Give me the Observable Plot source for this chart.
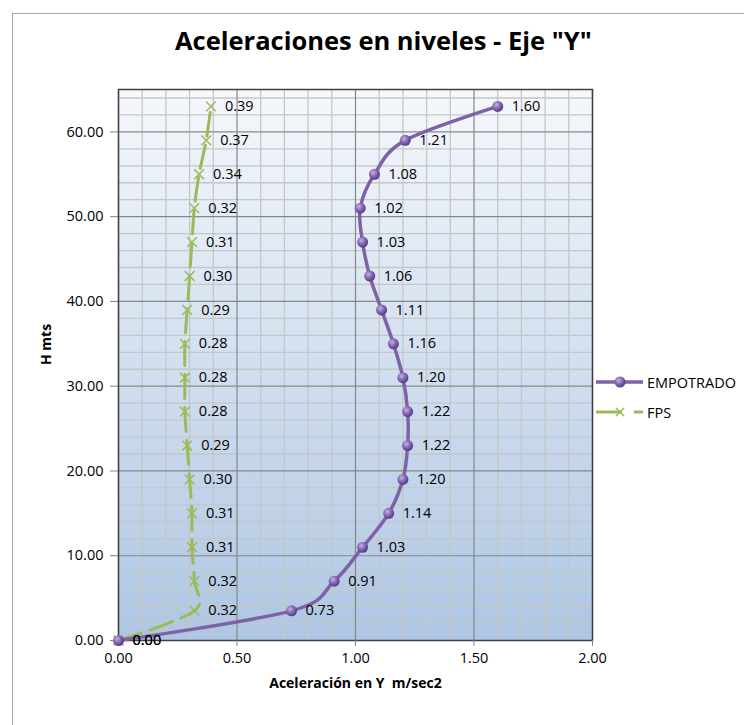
<!DOCTYPE html>
<html>
<head>
<meta charset="utf-8">
<script src="https://cdn.jsdelivr.net/npm/d3@7"></script>
<script src="https://cdn.jsdelivr.net/npm/@observablehq/plot@0.6"></script>
<style>
  html, body { margin: 0; padding: 0; background: #fff; }
  #wrap { position: relative; width: 744px; height: 725px; overflow: hidden; font-family: "Open Sans", sans-serif; }
  #border { position: absolute; left: 12px; top: 13px; width: 800px; height: 800px; border: 1px solid #a6a6a6; box-sizing: border-box; }
  #title { position: absolute; left: 175px; top: 20px; white-space: nowrap; font-weight: bold; font-size: 25.5px; line-height: 40px; color: #000; }
  #chart { position: absolute; left: 0; top: 0; }
  #legend { position: absolute; left: 596px; top: 367px; font-size: 14.5px; color: #000; }
  .li { display: flex; align-items: center; height: 30px; }
  .li svg { margin-right: 3px; }
</style>
</head>
<body>
<div id="wrap">
  <div id="border"></div>
  <div id="chart"></div>
  <div id="title">Aceleraciones en niveles - Eje "Y"</div>
  <div id="legend"></div>
</div>
<script>
// Data
const heights = [0, 3.5, 7, 11, 15, 19, 23, 27, 31, 35, 39, 43, 47, 51, 55, 59, 63];
const empotrado = [0.00, 0.73, 0.91, 1.03, 1.14, 1.20, 1.22, 1.22, 1.20, 1.16, 1.11, 1.06, 1.03, 1.02, 1.08, 1.21, 1.60];
const fps = [0.00, 0.32, 0.32, 0.31, 0.31, 0.30, 0.29, 0.28, 0.28, 0.28, 0.29, 0.30, 0.31, 0.32, 0.34, 0.37, 0.39];
const xTicks = [0, 0.5, 1.0, 1.5, 2.0];
const yTicks = [0, 10, 20, 30, 40, 50, 60];
const seriesNames = ["EMPOTRADO", "FPS"];
const purple = "#7e62a8";
const green = "#9bbb59";

const empData = heights.map((h, i) => ({x: empotrado[i], y: h}));
const fpsData = heights.map((h, i) => ({x: fps[i], y: h}));

const xMinor = d3.range(0, 21).map(d => d / 10).filter(d => !xTicks.includes(d));
const yMinor = d3.range(0, 66, 2).filter(d => d % 10 !== 0);

const fontFam = "Open Sans, sans-serif";

const plot = Plot.plot({
  width: 744,
  height: 725,
  marginLeft: 118,
  marginRight: 152,
  marginTop: 89,
  marginBottom: 85,
  style: {fontFamily: fontFam, fontSize: "14.5px", color: "#000", background: "transparent"},
  x: {domain: [0, 2]},
  y: {domain: [0, 65]},
  marks: [
    Plot.frame({fill: "url(#bgGrad)", stroke: null}),
    Plot.ruleX(xMinor, {stroke: "#c6c6c6", strokeWidth: 1.3}),
    Plot.ruleY(yMinor, {stroke: "#c6c6c6", strokeWidth: 1.3}),
    Plot.ruleX(xTicks, {stroke: "#878787", strokeWidth: 1.2}),
    Plot.ruleY(yTicks, {stroke: "#878787", strokeWidth: 1.2}),
    Plot.frame({stroke: "#404040", strokeWidth: 1.5}),
    Plot.axisX({ticks: xTicks, tickFormat: d3.format(".2f"), tickSize: 6, tickPadding: 6, stroke: "#808080", fontSize: 14.5, label: null}),
    Plot.axisY({ticks: yTicks, tickFormat: d3.format(".2f"), tickSize: 8, tickPadding: 7, stroke: "#808080", fontSize: 14.5, label: null}),
    // FPS series
    Plot.line(fpsData, {x: "x", y: "y", curve: "cardinal", stroke: green, strokeWidth: 3, strokeDasharray: "24,9"}),
    Plot.dot(fpsData, {x: "x", y: "y", symbol: "times", r: 4.5, stroke: green, strokeWidth: 1.5}),
    // EMPOTRADO series
    Plot.line(empData, {x: "x", y: "y", curve: "cardinal", stroke: purple, strokeWidth: 3.5}),
    Plot.dot(empData, {x: "x", y: "y", r: 5.5, fill: "url(#ballGrad)", stroke: null}),
    // labels
    Plot.text(fpsData, {x: "x", y: "y", text: d => d.x.toFixed(2), dx: 14, textAnchor: "start", fontSize: 14.5, fill: "#000"}),
    Plot.text(empData, {x: "x", y: "y", text: d => d.x.toFixed(2), dx: 14, textAnchor: "start", fontSize: 14.5, fill: "#000"}),
    // axis titles
    Plot.text(["Aceleración en Y  m/sec2"], {frameAnchor: "bottom", dy: 47, fontWeight: "bold", fontSize: 14, fill: "#000"}),
    Plot.text(["H mts"], {frameAnchor: "left", dx: -72, rotate: -90, fontWeight: "bold", fontSize: 14, fill: "#000"})
  ]
});

plot.insertAdjacentHTML("afterbegin",
  `<defs>
    <linearGradient id="bgGrad" x1="0" y1="0" x2="0" y2="1">
      <stop offset="0" stop-color="#f5f8fc"/>
      <stop offset="1" stop-color="#aec6e3"/>
    </linearGradient>
    <radialGradient id="ballGrad" cx="0.38" cy="0.35" r="0.7">
      <stop offset="0" stop-color="#c4b2e0"/>
      <stop offset="0.5" stop-color="#8466b3"/>
      <stop offset="1" stop-color="#4f3478"/>
    </radialGradient>
  </defs>`);

document.getElementById("chart").appendChild(plot);

// Legend
const legend = document.getElementById("legend");
const legendItems = [
  {name: seriesNames[0], color: purple, dash: null, marker: "ball"},
  {name: seriesNames[1], color: green, dash: "26,12", marker: "x"}
];
legendItems.forEach(it => {
  const row = document.createElement("div");
  row.className = "li";
  const s = d3.create("svg").attr("width", 48).attr("height", 14);
  s.append("line").attr("x1", 0).attr("x2", 47).attr("y1", 7).attr("y2", 7)
    .attr("stroke", it.color).attr("stroke-width", it.marker === "ball" ? 3.5 : 3)
    .attr("stroke-dasharray", it.dash);
  if (it.marker === "ball") {
    s.append("defs").html(`<radialGradient id="lgBall" cx="0.38" cy="0.35" r="0.7"><stop offset="0" stop-color="#c4b2e0"/><stop offset="0.5" stop-color="#8466b3"/><stop offset="1" stop-color="#4f3478"/></radialGradient>`);
    s.append("circle").attr("cx", 24).attr("cy", 7).attr("r", 5.5).attr("fill", "url(#lgBall)");
  } else {
    s.append("path").attr("d", "M20,3L28,11M28,3L20,11").attr("stroke", it.color).attr("stroke-width", 1.5);
  }
  row.appendChild(s.node());
  const t = document.createElement("span");
  t.textContent = it.name;
  row.appendChild(t);
  legend.appendChild(row);
});
</script>
</body>
</html>
